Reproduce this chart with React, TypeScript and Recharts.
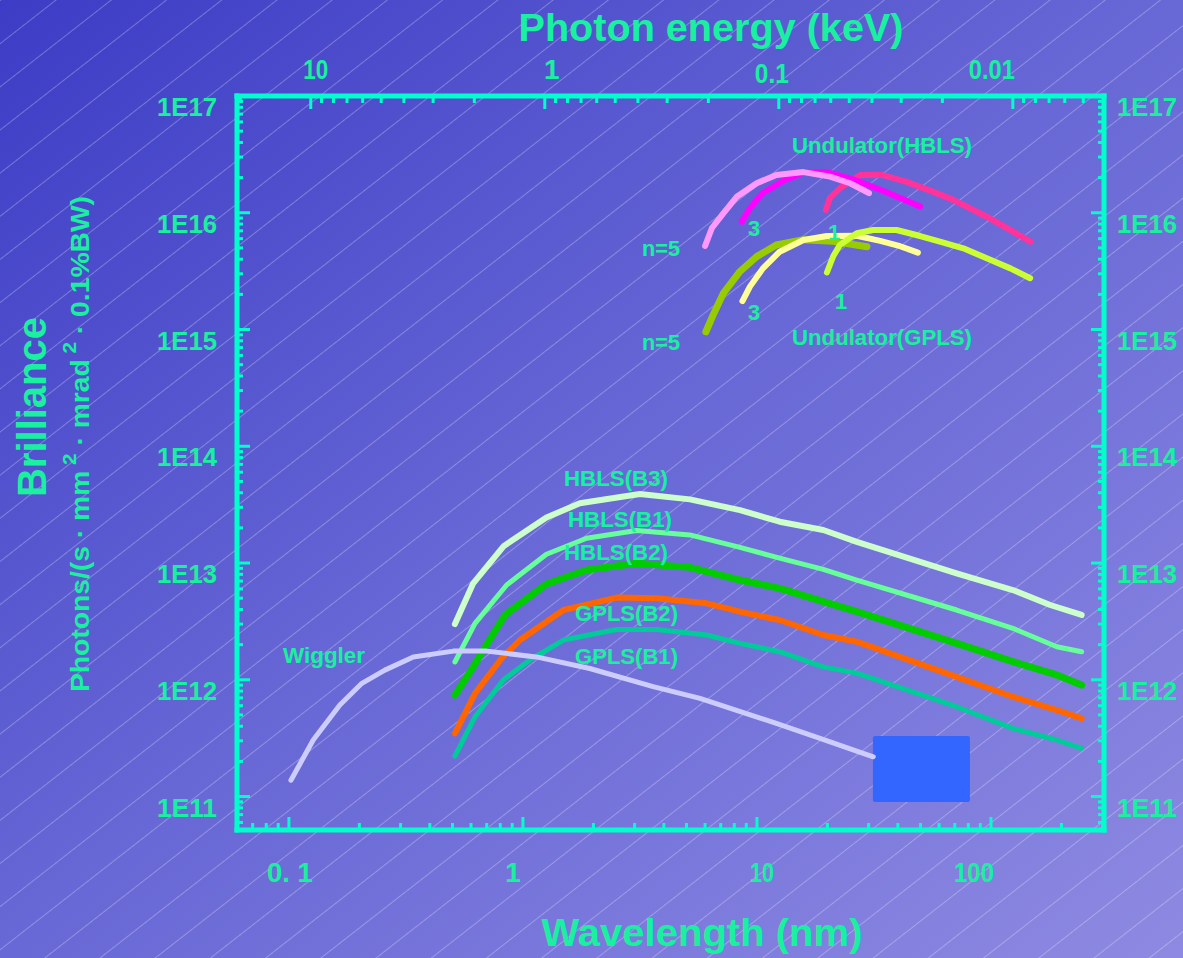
import React from 'react';
import { LineChart, Line, XAxis, YAxis, ReferenceArea } from 'recharts';

const FRAME = '#00FFCC';
const TEXT = '#19F0A0';
const FONT = '"Liberation Sans", Arial, Helvetica, sans-serif';
const HC = 1.23984; // keV * nm

// axis ranges: wavelength (nm) and brilliance
const xDomain = [0.06, 304];
const yDomain = [5.17e10, 1e17];

// tick sources
const decadeSteps = [1, 2, 3, 4, 5, 6, 7, 8, 9];
const wavelengthDecades = [0.01, 0.1, 1, 10, 100];
const energyDecades = [0.001, 0.01, 0.1, 1, 10];
const brillianceDecades = [1e10, 1e11, 1e12, 1e13, 1e14, 1e15, 1e16, 1e17];
const wavelengthLabels: Record<string, string> = { '0.1': '0. 1', '1': '1', '10': '10', '100': '100' };
const energyLabels: Record<string, string> = { '10': '10', '1': '1', '0.1': '0.1', '0.01': '0.01' };

// bending magnet / wiggler curves
const wigglerNm = [0.102, 0.127, 0.165, 0.205, 0.257, 0.34, 0.504, 0.7, 1.14, 1.93, 3.6, 5.71, 12.1, 18.6, 31.4];
const wigglerB = [1.38e11, 3.05e11, 6.08e11, 9.33e11, 1.21e12, 1.57e12, 1.76e12, 1.76e12, 1.57e12, 1.25e12, 8.73e11, 6.94e11, 4.24e11, 3.15e11, 2.19e11];

const hblsB3Nm = [0.512, 0.613, 0.829, 1.26, 1.75, 3.16, 5.17, 8.46, 12.5, 19.2, 26.7, 71.3, 124, 179, 244];
const hblsB3B = [3.0e12, 6.7e12, 1.4e13, 2.45e13, 3.25e13, 3.9e13, 3.51e13, 2.84e13, 2.26e13, 1.92e13, 1.52e13, 8.17e12, 5.87e12, 4.37e12, 3.59e12];

const hblsB1Nm = [0.512, 0.624, 0.852, 1.26, 1.87, 3.06, 5.17, 8.46, 12.5, 19.2, 26.7, 71.3, 124, 191, 244];
const hblsB1B = [1.42e12, 3.04e12, 6.48e12, 1.19e13, 1.63e13, 1.9e13, 1.74e13, 1.36e13, 1.1e13, 8.83e12, 7.15e12, 3.96e12, 2.76e12, 1.92e12, 1.74e12];

const hblsB2Nm = [0.512, 0.613, 0.676, 0.838, 1.26, 1.87, 3.06, 5.17, 8.46, 12.5, 19.2, 26.7, 71.3, 124, 191, 244];
const hblsB2B = [7.4e11, 1.29e12, 1.8e12, 3.59e12, 6.61e12, 8.71e12, 9.94e12, 9.18e12, 7.15e12, 6.07e12, 4.67e12, 3.83e12, 2.05e12, 1.43e12, 1.1e12, 9.02e11];

const gplsB2Nm = [0.512, 0.624, 0.811, 0.971, 1.49, 2.51, 3.73, 6.1, 8.46, 12.5, 19.2, 26.7, 71.3, 124, 191, 244];
const gplsB2B = [3.48e11, 7.65e11, 1.53e12, 2.19e12, 3.96e12, 5.06e12, 4.99e12, 4.52e12, 3.83e12, 3.25e12, 2.42e12, 2.12e12, 1.06e12, 7.16e11, 5.51e11, 4.68e11];

const gplsB1Nm = [0.512, 0.624, 0.824, 1.07, 1.49, 2.51, 3.73, 6.1, 8.46, 12.5, 19.2, 26.7, 71.3, 124, 191, 244];
const gplsB1B = [2.22e11, 4.82e11, 9.95e11, 1.48e12, 2.19e12, 2.7e12, 2.7e12, 2.42e12, 2.05e12, 1.74e12, 1.29e12, 1.14e12, 5.88e11, 3.84e11, 3.05e11, 2.59e11];

// undulator harmonics
const hblsU5Nm = [6.0, 6.42, 7.18, 8.19, 9.97, 12.1, 15.8, 20.5, 25.0, 30.1];
const hblsU5B = [5.19e15, 7.4e15, 9.89e15, 1.37e16, 1.79e16, 2.11e16, 2.23e16, 2.04e16, 1.79e16, 1.47e16];

const hblsU3Nm = [8.6, 9.33, 10.6, 13.0, 15.8, 19.9, 26.2, 35.2, 49.8];
const hblsU3B = [8.38e15, 1.1e16, 1.48e16, 1.89e16, 2.21e16, 2.23e16, 1.91e16, 1.52e16, 1.13e16];

const hblsU1Nm = [19.7, 20.5, 22.6, 27.6, 34.2, 43.6, 56.7, 69.0, 95.9, 121, 147];
const hblsU1B = [1.06e16, 1.34e16, 1.62e16, 2.11e16, 2.11e16, 1.84e16, 1.51e16, 1.29e16, 9.25e15, 7.11e15, 5.65e15];

const gplsU5Nm = [6.05, 6.45, 7.18, 8.46, 9.97, 12.1, 15.8, 21.1, 29.5];
const gplsU5B = [9.57e14, 1.29e15, 2.04e15, 3.14e15, 4.21e15, 5.3e15, 5.88e15, 5.69e15, 5.12e15];

const gplsU3Nm = [8.67, 9.33, 10.6, 12.5, 15.8, 19.9, 26.7, 33.6, 40.1, 48.7];
const gplsU3B = [1.75e15, 2.33e15, 3.34e15, 4.64e15, 5.85e15, 6.32e15, 6.35e15, 5.75e15, 5.24e15, 4.55e15];

const gplsU1Nm = [19.9, 21.2, 22.6, 26.7, 31.4, 39.5, 49.8, 60.5, 76.2, 95.9, 121, 147];
const gplsU1B = [3.08e15, 4.26e15, 5.3e15, 6.67e15, 7.12e15, 7.12e15, 6.32e15, 5.65e15, 4.96e15, 4.07e15, 3.34e15, 2.75e15];

// the plain blue box covering the lower right
const boxNm = [31.3, 81.3];
const boxB = [8.97e10, 3.3e11];

const toPoints = (nm: number[], b: number[]) => nm.map((x, i) => ({ x, y: b[i] }));

const lowerSeries = [
  { name: 'GPLS(B1)', data: toPoints(gplsB1Nm, gplsB1B), color: '#00CC99', width: 5 },
  { name: 'GPLS(B2)', data: toPoints(gplsB2Nm, gplsB2B), color: '#FF6600', width: 6 },
  { name: 'HBLS(B2)', data: toPoints(hblsB2Nm, hblsB2B), color: '#00CC00', width: 7 },
  { name: 'HBLS(B1)', data: toPoints(hblsB1Nm, hblsB1B), color: '#66FF99', width: 5 },
  { name: 'HBLS(B3)', data: toPoints(hblsB3Nm, hblsB3B), color: '#CCFFCC', width: 6 },
  { name: 'Wiggler', data: toPoints(wigglerNm, wigglerB), color: '#CCCCFF', width: 5 },
];

const undulatorSeries = [
  { name: 'GPLS n=5', data: toPoints(gplsU5Nm, gplsU5B), color: '#99CC00', width: 7 },
  { name: 'GPLS n=3', data: toPoints(gplsU3Nm, gplsU3B), color: '#FFFF99', width: 6 },
  { name: 'GPLS n=1', data: toPoints(gplsU1Nm, gplsU1B), color: '#CCFF33', width: 6 },
  { name: 'HBLS n=1', data: toPoints(hblsU1Nm, hblsU1B), color: '#FF3399', width: 6 },
  { name: 'HBLS n=3', data: toPoints(hblsU3Nm, hblsU3B), color: '#FF00FF', width: 6 },
  { name: 'HBLS n=5', data: toPoints(hblsU5Nm, hblsU5B), color: '#FF99FF', width: 6 },
];

const inRange = (v: number, d: number[]) => v >= d[0] * 0.9999 && v <= d[1] * 1.0001;
const isDecade = (v: number) => Math.abs(Math.log10(v) - Math.round(Math.log10(v))) < 1e-6;
const key = (v: number) => String(+v.toPrecision(3));

const bottomTicks = wavelengthDecades
  .flatMap(d => decadeSteps.map(s => +(s * d).toPrecision(3)))
  .filter(v => inRange(v, xDomain));
const topTicks = energyDecades
  .flatMap(d => decadeSteps.map(s => HC / (s * d)))
  .filter(v => inRange(v, xDomain));
const yTicks = brillianceDecades
  .flatMap(d => decadeSteps.map(s => s * d))
  .filter(v => inRange(v, yDomain));

// small label nudges to sit where the original put them
const bottomNudge: Record<string, number> = { '0.1': 1, '1': -10, '10': 5, '100': -17 };
const bottomWidth: Record<string, number> = { '0.1': 46, '10': 24, '100': 40 };
const topNudge: Record<string, number> = { '10': 5, '1': 7, '0.1': -7, '0.01': -21 };
const topDrop: Record<string, number> = { '0.1': 4 };
const topWidth: Record<string, number> = { '10': 25, '0.1': 34, '0.01': 46 };

const BottomTick = (props: any) => {
  const { x, y, payload } = props;
  const v = payload.value;
  const major = isDecade(v);
  const k = key(v);
  return (
    <g>
      <line x1={x} y1={y} x2={x} y2={y - (major ? 13 : 7)} stroke={FRAME} strokeWidth={3} />
      {major && wavelengthLabels[k] && (
        <text x={x + (bottomNudge[k] || 0)} y={y + 52} textAnchor="middle" fill={TEXT}
          fontFamily={FONT} fontSize={28} fontWeight="bold"
          {...(bottomWidth[k] ? { textLength: bottomWidth[k], lengthAdjust: 'spacingAndGlyphs' } : {})}>
          {wavelengthLabels[k]}
        </text>
      )}
    </g>
  );
};

const TopTick = (props: any) => {
  const { x, y, payload } = props;
  const e = HC / payload.value;
  const major = isDecade(e);
  const k = key(e);
  return (
    <g>
      <line x1={x} y1={y} x2={x} y2={y + (major ? 13 : 7)} stroke={FRAME} strokeWidth={3} />
      {major && energyLabels[k] && (
        <text x={x + (topNudge[k] || 0)} y={y - 17 + (topDrop[k] || 0)} textAnchor="middle" fill={TEXT}
          fontFamily={FONT} fontSize={28} fontWeight="bold"
          {...(topWidth[k] ? { textLength: topWidth[k], lengthAdjust: 'spacingAndGlyphs' } : {})}>
          {energyLabels[k]}
        </text>
      )}
    </g>
  );
};

const LeftTick = (props: any) => {
  const { x, y, payload } = props;
  const v = payload.value;
  const major = isDecade(v);
  return (
    <g>
      <line x1={x} y1={y} x2={x + (major ? 13 : 6)} y2={y} stroke={FRAME} strokeWidth={3} />
      {major && (
        <text x={x - 20} y={y + 20} textAnchor="end" fill={TEXT} fontFamily={FONT}
          fontSize={25} fontWeight="bold" textLength={60} lengthAdjust="spacingAndGlyphs">
          {`1E${Math.round(Math.log10(v))}`}
        </text>
      )}
    </g>
  );
};

const RightTick = (props: any) => {
  const { x, y, payload } = props;
  const v = payload.value;
  const major = isDecade(v);
  return (
    <g>
      <line x1={x} y1={y} x2={x - (major ? 13 : 6)} y2={y} stroke={FRAME} strokeWidth={3} />
      {major && (
        <text x={x + 13} y={y + 20} textAnchor="start" fill={TEXT} fontFamily={FONT}
          fontSize={25} fontWeight="bold" textLength={60} lengthAdjust="spacingAndGlyphs">
          {`1E${Math.round(Math.log10(v))}`}
        </text>
      )}
    </g>
  );
};

const annotations = [
  { text: 'Undulator(HBLS)', x: 792, y: 153, w: 180 },
  { text: 'Undulator(GPLS)', x: 792, y: 345, w: 180 },
  { text: 'n=5', x: 642, y: 256, w: 38 },
  { text: 'n=5', x: 642, y: 350, w: 38 },
  { text: '3', x: 748, y: 236 },
  { text: '1', x: 828, y: 240 },
  { text: '3', x: 748, y: 320 },
  { text: '1', x: 835, y: 309 },
  { text: 'HBLS(B3)', x: 564, y: 486, w: 104 },
  { text: 'HBLS(B1)', x: 568, y: 527, w: 104 },
  { text: 'HBLS(B2)', x: 564, y: 560, w: 104 },
  { text: 'GPLS(B2)', x: 575, y: 621, w: 103 },
  { text: 'GPLS(B1)', x: 575, y: 664, w: 103 },
  { text: 'Wiggler', x: 283, y: 663, w: 82 },
];

const Backdrop = () => (
  <svg width={1183} height={958} style={{ position: 'absolute', left: 0, top: 0 }}>
    <defs>
      <linearGradient id="bg" x1="0" y1="0" x2="1" y2="1">
        <stop offset="0%" stopColor="#3C3CC6" />
        <stop offset="50%" stopColor="#6868D6" />
        <stop offset="100%" stopColor="#8E8AE2" />
      </linearGradient>
      <pattern id="hatch" patternUnits="userSpaceOnUse" width={20} height={34} patternTransform="rotate(-38)">
        <line x1={0} y1={0.5} x2={20} y2={0.5} stroke="rgba(255,255,255,0.3)" strokeWidth={0.9} />
      </pattern>
    </defs>
    <rect width={1183} height={958} fill="url(#bg)" />
    <rect width={1183} height={958} fill="url(#hatch)" />
  </svg>
);

const Overlay = () => (
  <svg width={1183} height={958} style={{ position: 'absolute', left: 0, top: 0, pointerEvents: 'none' }}>
    <text x={711} y={41} textAnchor="middle" fill={TEXT} fontFamily={FONT} fontSize={38}
      fontWeight="bold" textLength={385} lengthAdjust="spacingAndGlyphs">Photon energy (keV)</text>
    <text x={702} y={946} textAnchor="middle" fill={TEXT} fontFamily={FONT} fontSize={38}
      fontWeight="bold" textLength={321} lengthAdjust="spacingAndGlyphs">Wavelength (nm)</text>
    <text x={46} y={407} transform="rotate(-90 46 407)" textAnchor="middle" fill={TEXT}
      fontFamily={FONT} fontSize={40} fontWeight="bold" textLength={180}
      lengthAdjust="spacingAndGlyphs">Brilliance</text>
    <text x={89} y={444} transform="rotate(-90 89 444)" textAnchor="middle" fill={TEXT}
      fontFamily={FONT} fontSize={26} fontWeight="bold" textLength={496}
      lengthAdjust="spacingAndGlyphs">
      Photons/(s · mm
      <tspan fontSize={19} dy={-13}> 2</tspan>
      <tspan dy={13}> · mrad</tspan>
      <tspan fontSize={19} dy={-13}> 2</tspan>
      <tspan dy={13}> · 0.1%BW)</tspan>
    </text>
    {annotations.map((a, i) => (
      <text key={i} x={a.x} y={a.y} fill={TEXT} fontFamily={FONT} fontSize={22} fontWeight="bold"
        {...(a.w ? { textLength: a.w, lengthAdjust: 'spacingAndGlyphs' } : {})}>
        {a.text}
      </text>
    ))}
  </svg>
);

export default function App() {
  return (
    <div style={{ position: 'absolute', left: 0, top: 0, width: 1183, height: 958, overflow: 'hidden' }}>
      <Backdrop />
      <LineChart width={1183} height={958} margin={{ top: 56, right: 19, bottom: 88, left: 177 }}>
        <XAxis xAxisId="bottom" dataKey="x" type="number" scale="log" domain={xDomain} allowDataOverflow
          ticks={bottomTicks} interval={0} tick={BottomTick} tickLine={false} tickSize={0} tickMargin={0}
          height={40} axisLine={{ stroke: FRAME, strokeWidth: 5, strokeLinecap: 'square' }} />
        <XAxis xAxisId="top" orientation="top" dataKey="x" type="number" scale="log" domain={xDomain}
          allowDataOverflow ticks={topTicks} interval={0} tick={TopTick} tickLine={false} tickSize={0}
          tickMargin={0} height={40} axisLine={{ stroke: FRAME, strokeWidth: 5, strokeLinecap: 'square' }} />
        <YAxis yAxisId="left" type="number" scale="log" domain={yDomain} allowDataOverflow ticks={yTicks}
          interval={0} tick={LeftTick} tickLine={false} tickSize={0} tickMargin={0} width={60}
          axisLine={{ stroke: FRAME, strokeWidth: 5, strokeLinecap: 'square' }} />
        <YAxis yAxisId="right" orientation="right" type="number" scale="log" domain={yDomain}
          allowDataOverflow ticks={yTicks} interval={0} tick={RightTick} tickLine={false} tickSize={0}
          tickMargin={0} width={60} axisLine={{ stroke: FRAME, strokeWidth: 5, strokeLinecap: 'square' }} />
        {undulatorSeries.map(s => (
          <Line key={s.name} xAxisId="top" yAxisId="right" data={s.data} dataKey="y" name={s.name}
            type="linear" stroke={s.color} strokeWidth={s.width} strokeLinecap="round"
            strokeLinejoin="round" dot={false} activeDot={false} isAnimationActive={false} />
        ))}
        {lowerSeries.map(s => (
          <Line key={s.name} xAxisId="bottom" yAxisId="left" data={s.data} dataKey="y" name={s.name}
            type="linear" stroke={s.color} strokeWidth={s.width} strokeLinecap="round"
            strokeLinejoin="round" dot={false} activeDot={false} isAnimationActive={false} />
        ))}
        <ReferenceArea xAxisId="bottom" yAxisId="left" x1={boxNm[0]} x2={boxNm[1]} y1={boxB[0]} y2={boxB[1]}
          fill="#3366FF" fillOpacity={1} stroke="none" radius={2} />
      </LineChart>
      <Overlay />
    </div>
  );
}
